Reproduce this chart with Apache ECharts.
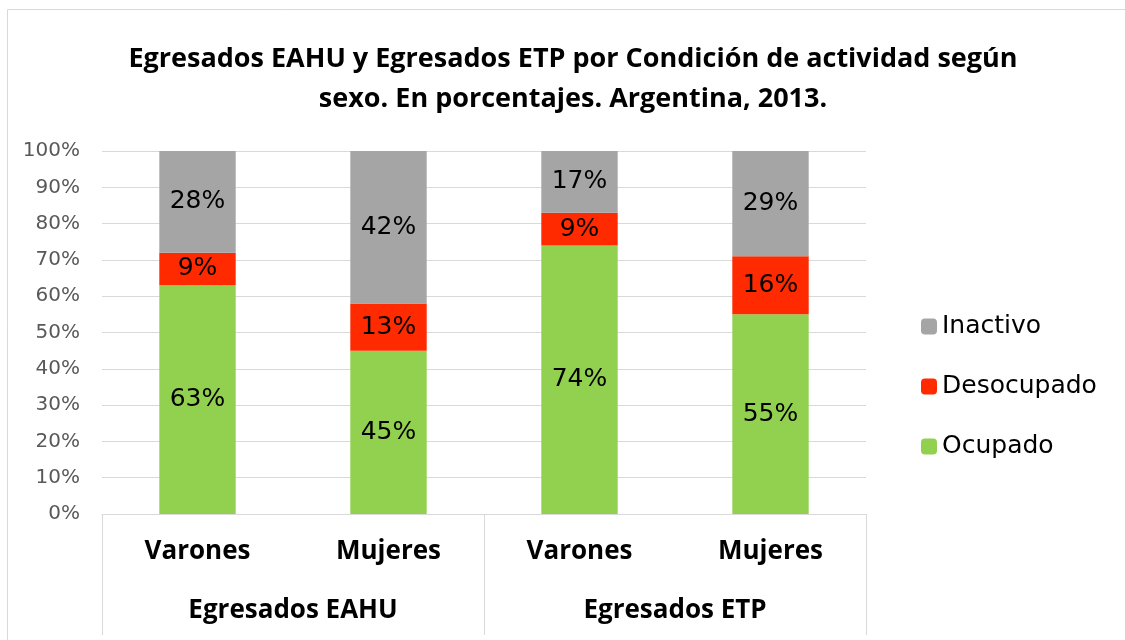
<!DOCTYPE html>
<html>
<head>
<meta charset="utf-8">
<script src="https://cdn.jsdelivr.net/npm/echarts@6/dist/echarts.min.js"></script>
<style>
  html, body { margin: 0; padding: 0; background: #fff; }
  #container { width: 1125px; height: 640px; }
</style>
</head>
<body>
<div id="container"></div>
<script type="text/javascript">
    // categorias
    var sexo = ['Varones', 'Mujeres', 'Varones', 'Mujeres'];
    var grupos = ['Egresados EAHU', 'Egresados ETP'];
    // porcentajes por condicion de actividad
    var ocupado = [63, 45, 74, 55];
    var desocupado = [9, 13, 9, 16];
    var inactivo = [28, 42, 17, 29];

    var chartDom = document.getElementById('container');
    var myChart = echarts.init(chartDom);
    var option;

    const colors = ['#92D050', '#FF2A00', '#A5A5A5'];
    const fuenteTitulo = 'Open Sans';
    const fuente = 'DejaVu Sans';

    var etiqueta = {
        show: true,
        position: 'inside',
        formatter: '{c}%',
        color: '#000',
        fontSize: 25,
        fontFamily: fuente
    };

    option = {
        animation: false,
        color: colors,
        title: {
            text: 'Egresados EAHU y Egresados ETP por Condición de actividad según\nsexo. En porcentajes. Argentina, 2013.',
            left: 568,
            top: 34,
            textAlign: 'center',
            textStyle: {
                fontFamily: fuenteTitulo,
                fontWeight: 'bold',
                fontSize: 27,
                lineHeight: 40,
                color: '#000'
            }
        },
        graphic: [
            {
                type: 'rect',
                shape: { x: 7.5, y: 9.5, width: 1130, height: 640 },
                style: { fill: 'none', stroke: '#d9d9d9', lineWidth: 1 },
                silent: true
            }
        ],
        legend: {
            orient: 'vertical',
            left: 916,
            top: 309,
            itemWidth: 16,
            itemHeight: 16,
            itemGap: 35,
            data: ['Inactivo', 'Desocupado', 'Ocupado'],
            textStyle: {
                fontFamily: fuente,
                fontSize: 25,
                color: '#000'
            }
        },
        grid: {
            left: 102,
            right: 259,
            top: 151,
            bottom: 126
        },
        xAxis: [
            {
                type: 'category',
                data: sexo,
                axisLine: { show: true, lineStyle: { color: '#d9d9d9' } },
                axisTick: { show: false },
                axisLabel: {
                    margin: 25,
                    fontFamily: fuenteTitulo,
                    fontWeight: 'bold',
                    fontSize: 26,
                    color: '#000'
                }
            },
            {
                type: 'category',
                position: 'bottom',
                data: grupos,
                axisLine: { show: false },
                axisTick: { show: true, length: 121, lineStyle: { color: '#d9d9d9' } },
                axisLabel: {
                    margin: 84,
                    fontFamily: fuenteTitulo,
                    fontWeight: 'bold',
                    fontSize: 26,
                    color: '#000'
                }
            }
        ],
        yAxis: [
            {
                type: 'value',
                min: 0,
                max: 100,
                interval: 10,
                axisLine: { show: false },
                axisTick: { show: false },
                splitLine: { lineStyle: { color: '#d9d9d9' } },
                axisLabel: {
                    formatter: '{value}%',
                    margin: 22,
                    fontFamily: fuente,
                    fontSize: 20,
                    color: '#595959'
                }
            }
        ],
        series: [
            {
                name: 'Ocupado',
                type: 'bar',
                stack: 'total',
                barWidth: '40%',
                label: etiqueta,
                data: ocupado
            },
            {
                name: 'Desocupado',
                type: 'bar',
                stack: 'total',
                label: etiqueta,
                data: desocupado
            },
            {
                name: 'Inactivo',
                type: 'bar',
                stack: 'total',
                label: etiqueta,
                data: inactivo
            }
        ]
    };

    option && myChart.setOption(option);
</script>
</body>
</html>
